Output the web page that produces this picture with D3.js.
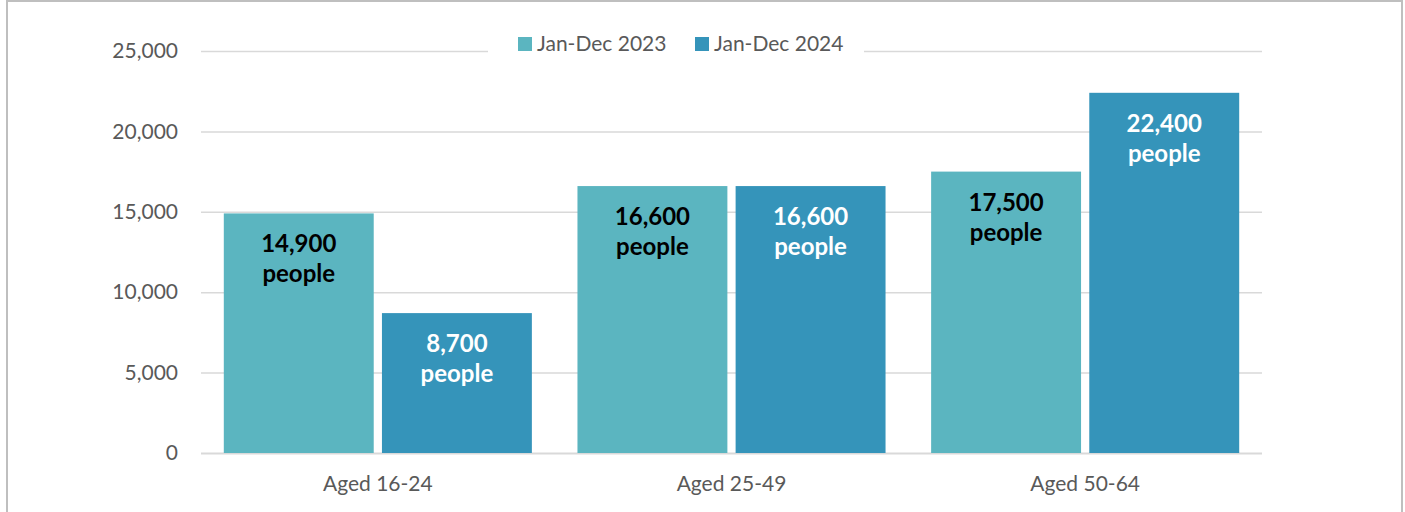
<!DOCTYPE html>
<html>
<head>
<meta charset="utf-8">
<script src="https://cdn.jsdelivr.net/npm/d3@7"></script>
<style>
  html, body { margin: 0; padding: 0; background: #fff; }
  svg { display: block; }
  text { font-family: Lato, "Open Sans", sans-serif; }
</style>
</head>
<body>
<svg id="chart" width="1405" height="512"></svg>
<script>
// Age groups and yearly counts of people
const categories = ["Aged 16-24", "Aged 25-49", "Aged 50-64"];
const seriesNames = ["Jan-Dec 2023", "Jan-Dec 2024"];
const values2023 = [14900, 16600, 17500];
const values2024 = [8700, 16600, 22400];
const yTicks = [0, 5000, 10000, 15000, 20000, 25000];

const colors = ["#5bb5c0", "#3594ba"];
const labelColors = ["#000000", "#ffffff"];

const svg = d3.select("#chart");
const W = 1405, H = 512;

// outer frame
svg.append("rect")
  .attr("x", 7).attr("y", 1).attr("width", 1395).attr("height", H + 10)
  .attr("fill", "#fff").attr("stroke", "#bfbfbf").attr("stroke-width", 2);

const margin = { left: 201, right: W - 1262, top: 51, bottom: H - 453 };

const x0 = d3.scaleBand()
  .domain(categories)
  .range([margin.left, W - margin.right])
  .paddingInner(0)
  .paddingOuter(0);

const groupInner = 22.8; // space between band edge and first bar
const x1 = d3.scaleBand()
  .domain(seriesNames)
  .range([groupInner, x0.bandwidth() - groupInner])
  .paddingInner(0.052);

const y = d3.scaleLinear().domain([0, 25000]).range([453, 51]);

// gridlines and y labels
const yAxis = d3.axisLeft(y)
  .tickValues(yTicks)
  .tickFormat(d3.format(","))
  .tickSize(-(W - margin.right - margin.left))
  .tickPadding(23);

const gy = svg.append("g")
  .attr("transform", `translate(${margin.left},0)`)
  .call(yAxis);
gy.select(".domain").remove();
gy.selectAll(".tick line")
  .attr("stroke", "#d9d9d9")
  .attr("stroke-width", d => d === 0 ? 2 : 1.5);
gy.selectAll(".tick text")
  .attr("fill", "#595959")
  .style("font-size", "21px");

// bars
const data = categories.map((c, i) => ({
  category: c,
  values: [
    { series: seriesNames[0], value: values2023[i], idx: 0 },
    { series: seriesNames[1], value: values2024[i], idx: 1 }
  ]
}));

const groups = svg.append("g").selectAll("g")
  .data(data)
  .join("g")
  .attr("transform", d => `translate(${x0(d.category)},0)`);

groups.selectAll("rect")
  .data(d => d.values)
  .join("rect")
  .attr("x", d => x1(d.series))
  .attr("width", x1.bandwidth())
  .attr("y", d => y(d.value))
  .attr("height", d => y(0) - y(d.value))
  .attr("fill", d => colors[d.idx]);

// value labels inside bars
const fmt = d3.format(",");
const lbl = groups.selectAll("text.val")
  .data(d => d.values)
  .join("text")
  .attr("class", "val")
  .attr("text-anchor", "middle")
  .attr("fill", d => labelColors[d.idx])
  .style("font-size", "24px")
  .style("font-weight", "bold");
lbl.append("tspan")
  .attr("x", d => x1(d.series) + x1.bandwidth() / 2)
  .attr("y", d => y(d.value) + 39)
  .text(d => fmt(d.value));
lbl.append("tspan")
  .attr("x", d => x1(d.series) + x1.bandwidth() / 2)
  .attr("y", d => y(d.value) + 69)
  .text("people");

// category axis labels
svg.append("g").selectAll("text")
  .data(categories)
  .join("text")
  .attr("x", d => x0(d) + x0.bandwidth() / 2)
  .attr("y", 491)
  .attr("text-anchor", "middle")
  .attr("fill", "#595959")
  .style("font-size", "21px")
  .text(d => d);

// legend
const legend = svg.append("g");
legend.append("rect")
  .attr("x", 488).attr("y", 30).attr("width", 376).attr("height", 30)
  .attr("fill", "#fff");
const legendX = [518, 695];
const items = legend.selectAll("g")
  .data(seriesNames)
  .join("g")
  .attr("transform", (d, i) => `translate(${legendX[i]},37)`);
items.append("rect")
  .attr("width", 14).attr("height", 14)
  .attr("fill", (d, i) => colors[i]);
items.append("text")
  .attr("x", 19).attr("y", 14)
  .attr("fill", "#595959")
  .style("font-size", "21px")
  .text(d => d);
</script>
</body>
</html>
